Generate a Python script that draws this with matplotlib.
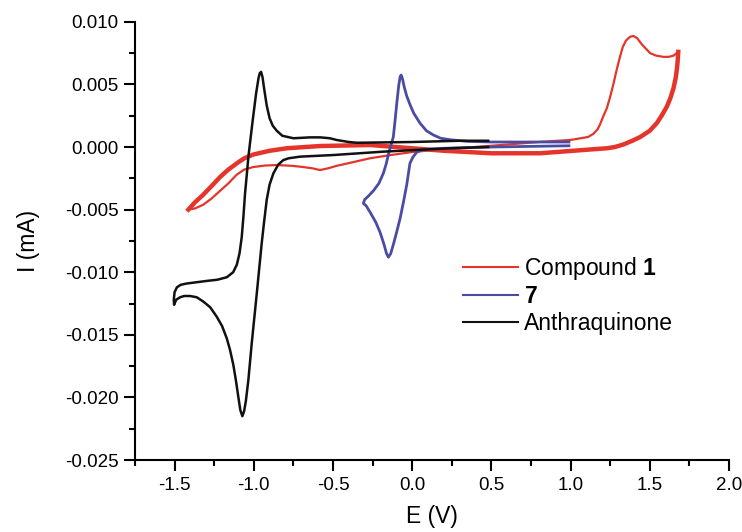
import matplotlib
matplotlib.use("Agg")
import matplotlib.pyplot as plt
from matplotlib.ticker import MultipleLocator, FuncFormatter

plt.rcParams['font.family'] = ['Liberation Sans', 'DejaVu Sans']
plt.rcParams['mathtext.fontset'] = 'custom'
plt.rcParams['mathtext.rm'] = 'Liberation Sans'
plt.rcParams['mathtext.bf'] = 'Liberation Sans:bold'

# Compound 1: forward scan (thin) and reverse scan (noisy)
e_cmp1_fwd = [-1.413, -1.37, -1.318, -1.265, -1.213, -1.16, -1.107, -1.06, -1.003, -0.93, -0.855,
              -0.76, -0.687, -0.63, -0.581, -0.53, -0.476, -0.37, -0.266, -0.14, 0.0, 0.176, 0.5,
              0.8, 0.997, 1.06, 1.11, 1.144, 1.17, 1.186, 1.205, 1.229, 1.25, 1.27, 1.29, 1.312,
              1.33, 1.35, 1.375, 1.397, 1.42, 1.45, 1.48, 1.502, 1.54, 1.586, 1.62, 1.65, 1.68]
i_cmp1_fwd = [-0.005, -0.0049, -0.0046, -0.0041, -0.0035, -0.0029, -0.0022, -0.0018, -0.0016, -0.00148, -0.00144,
              -0.0015, -0.0016, -0.0017, -0.00184, -0.0017, -0.0015, -0.0012, -0.0009, -0.00065, -0.0004, -0.0002, 0.0001,
              0.0004, 0.00056, 0.00069, 0.0008, 0.00105, 0.0014, 0.0018, 0.0024, 0.0031, 0.004, 0.005, 0.0061, 0.0072,
              0.008, 0.0085, 0.0088, 0.00887, 0.0087, 0.0082, 0.0078, 0.0075, 0.0073, 0.0072, 0.0072, 0.0073, 0.0076]
e_cmp1_rev = [1.68, 1.677, 1.673, 1.665, 1.65, 1.63, 1.607, 1.575, 1.544, 1.5, 1.44, 1.39, 1.333,
              1.28, 1.229, 1.12, 1.018, 0.807, 0.5, 0.2, 0.0, -0.266, -0.581, -0.792, -0.9, -1.003,
              -1.06, -1.107, -1.16, -1.213, -1.265, -1.318, -1.37, -1.413]
i_cmp1_rev = [0.0076, 0.007, 0.0064, 0.0056, 0.0047, 0.0039, 0.0032, 0.0025, 0.0019, 0.0013, 0.0008, 0.0005, 0.0002,
              0.0, -0.0001, -0.0002, -0.0003, -0.0005, -0.0005, -0.0003, -0.0001, 0.00016, 0.00008, -0.0001, -0.0003, -0.0006,
              -0.0009, -0.0013, -0.0018, -0.0024, -0.0031, -0.0038, -0.0044, -0.005]

# 7
e_7 = [0.99, 0.5, 0.2, 0.07, 0.03, 0.005, -0.014, -0.034, -0.055, -0.076, -0.1, -0.119, -0.135,
       -0.15, -0.162, -0.175, -0.19, -0.203, -0.23, -0.266, -0.29, -0.308, -0.3, -0.275, -0.245,
       -0.21, -0.182, -0.165, -0.15, -0.135, -0.119, -0.108, -0.097, -0.085, -0.076, -0.07, -0.062,
       -0.05, -0.035, -0.014, 0.01, 0.05, 0.09, 0.134, 0.18, 0.24, 0.35, 0.5, 0.99]
i_7 = [0.0001, 0.0, -0.0001, -0.0002, -0.0004, -0.0008, -0.0013, -0.003, -0.0044, -0.0057, -0.0069, -0.0078, -0.0085,
       -0.0088, -0.0085, -0.0079, -0.0073, -0.0068, -0.006, -0.0052, -0.0047, -0.0045, -0.0042, -0.0039, -0.0035,
       -0.0029, -0.0021, -0.0014, -0.0006, 0.0001, 0.0008, 0.0021, 0.0035, 0.0049, 0.0056, 0.00575, 0.0055,
       0.0048, 0.0041, 0.0034, 0.0027, 0.0019, 0.0013, 0.00096, 0.0007, 0.00058, 0.00045, 0.0004, 0.0004]

# Anthraquinone
e_aq = [0.48, 0.239, -0.182, -0.497, -0.708, -0.78, -0.813, -0.845, -0.876, -0.9, -0.918, -0.935,
        -0.95, -0.981, -1.013, -1.034, -1.05, -1.061, -1.072, -1.085, -1.097, -1.112, -1.129, -1.15,
        -1.17, -1.2, -1.234, -1.275, -1.318, -1.36, -1.402, -1.44, -1.465, -1.49, -1.503, -1.505,
        -1.5, -1.485, -1.46, -1.423, -1.36, -1.3, -1.23, -1.17, -1.13, -1.107, -1.09, -1.076,
        -1.065, -1.055, -1.044, -1.034, -1.023, -1.005, -0.985, -0.97, -0.962, -0.954, -0.945,
        -0.935, -0.918, -0.9, -0.88, -0.855, -0.82, -0.75, -0.645, -0.58, -0.52, -0.476, -0.4,
        -0.35, 0.0, 0.3, 0.48]
i_aq = [0.0, -0.0001, -0.00037, -0.00064, -0.00077, -0.0009, -0.00104, -0.0014, -0.0021, -0.003, -0.0042, -0.006,
        -0.0077, -0.0117, -0.0157, -0.0186, -0.0203, -0.0211, -0.0215, -0.021, -0.02, -0.0187, -0.0174, -0.0162,
        -0.0153, -0.0143, -0.01355, -0.0128, -0.01235, -0.012, -0.0119, -0.0119, -0.012, -0.0122, -0.0126, -0.0122,
        -0.0116, -0.0112, -0.011, -0.0109, -0.0108, -0.0107, -0.0106, -0.0104, -0.01, -0.0094, -0.0085, -0.0072,
        -0.0055, -0.0037, -0.0022, -0.0008, 0.0004, 0.0023, 0.0043, 0.0055, 0.0059, 0.006, 0.0056,
        0.0047, 0.0033, 0.0023, 0.0017, 0.0013, 0.0009, 0.0007, 0.00077, 0.00077, 0.0007, 0.00056, 0.0004,
        0.00034, 0.0004, 0.0005, 0.0005]

red = '#e5352b'
blue = '#4a4ca3'
black = '#111111'

fig = plt.figure(figsize=(7.42, 5.32), dpi=100)
ax = fig.add_axes([0.1819, 0.1353, 0.8005, 0.8237])

ax.plot(e_cmp1_fwd, i_cmp1_fwd, color=red, lw=1.6, label='Compound $\\mathbf{1}$')
ax.plot(e_cmp1_rev, i_cmp1_rev, color=red, lw=3.2)
ax.plot(e_7, i_7, color=blue, lw=2.0, label='$\\mathbf{7}$')
ax.plot(e_aq, i_aq, color=black, lw=1.8, label='Anthraquinone')

ax.set_xlim(-1.75, 2.0)
ax.set_ylim(-0.025, 0.010)
ax.xaxis.set_major_locator(MultipleLocator(0.5))
ax.xaxis.set_minor_locator(MultipleLocator(0.25))
ax.yaxis.set_major_locator(MultipleLocator(0.005))
ax.yaxis.set_minor_locator(MultipleLocator(0.0025))
ax.xaxis.set_major_formatter(FuncFormatter(lambda v, p: '%.1f' % (0.0 if abs(v) < 1e-9 else v)))
ax.yaxis.set_major_formatter(FuncFormatter(lambda v, p: '%.3f' % (0.0 if abs(v) < 1e-9 else v)))

for s in ['top', 'right']:
    ax.spines[s].set_visible(False)
for s in ['left', 'bottom']:
    ax.spines[s].set_linewidth(1.5)
ax.tick_params(which='major', direction='out', length=8, width=1.5, labelsize=13.5, pad=4)
ax.tick_params(which='minor', direction='out', length=4, width=1.5)

ax.set_xlabel('E (V)', fontsize=16.5, labelpad=8)
ax.set_ylabel('I (mA)', fontsize=16.5, labelpad=18)

leg = ax.legend(loc='upper left', bbox_to_anchor=(0.552, 0.468), frameon=False, fontsize=16.5,
                handlelength=2.4, handletextpad=0.26, labelspacing=0.15, borderpad=0, borderaxespad=0)
for line in leg.get_lines():
    line.set_linewidth(1.5)

fig.savefig('out.png', dpi=100)
